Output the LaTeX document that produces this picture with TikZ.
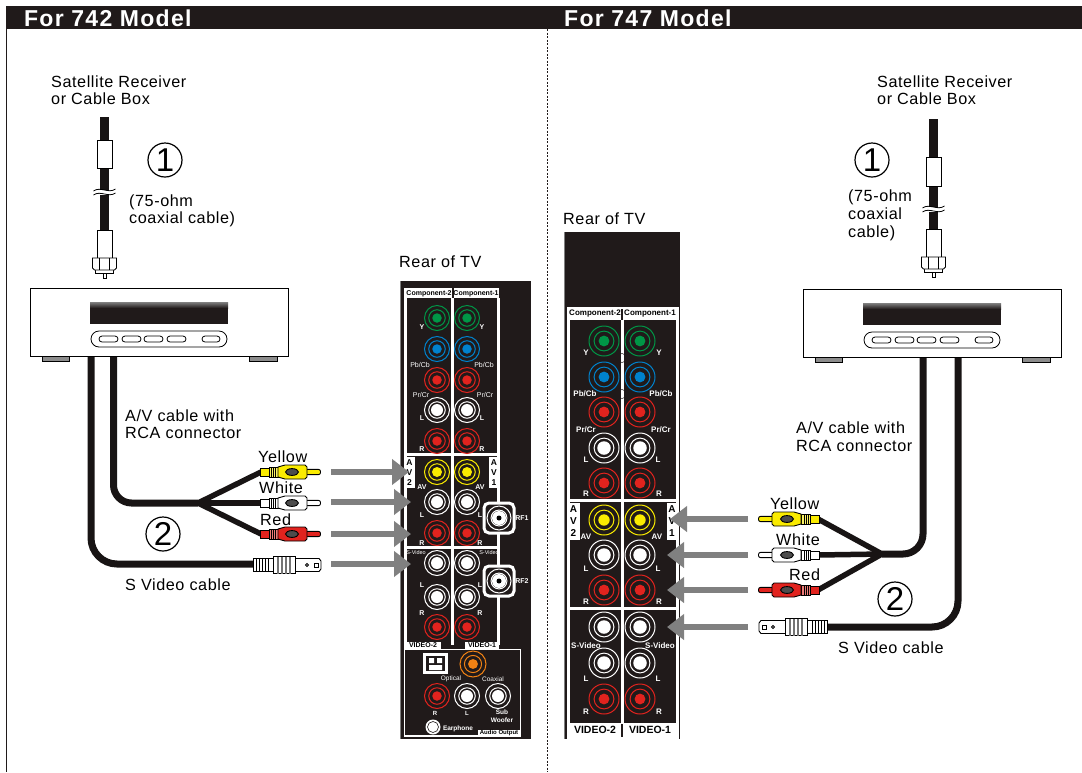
\documentclass[tikz,border=0pt]{standalone}
\usepackage{fontspec}
\usepackage{xcolor}
\usepackage{tikz}
\usetikzlibrary{arrows.meta}
\setmainfont{Liberation Sans}
\newfontfamily\capfont[LetterSpace=3.5]{Liberation Sans}
\newfontfamily\headfont[LetterSpace=5.5]{Liberation Sans Bold}
\definecolor{panelk}{RGB}{32, 26, 26}
\definecolor{cablek}{RGB}{24, 20, 20}
\definecolor{arrowg}{RGB}{128,128,128}
\definecolor{jackG}{RGB}{  0,150, 70}
\definecolor{jackB}{RGB}{  0,130,205}
\definecolor{jackR}{RGB}{225, 35, 30}
\definecolor{jackY}{RGB}{250,235,  0}
\definecolor{jackO}{RGB}{240,130, 20}
\definecolor{jackW}{RGB}{255,255,255}
\tikzset{
  cable/.style={cablek, line width=7pt},
  branch/.style={cablek, line width=5.5pt},
  tvarrow/.style={arrowg, line width=6pt, -{Triangle[length=17pt,width=25pt]}},
  caption/.style={inner sep=0pt, anchor=base west, font=\capfont\fontsize{16.2}{18}\selectfont},
  numcirc/.style={draw, circle, line width=1.2pt, minimum size=34pt, inner sep=0pt, font=\fontsize{33}{33}\selectfont},
  panelA/.style={inner sep=0pt, text=white, font=\bfseries\fontsize{7}{8}\selectfont},
  panelB/.style={inner sep=0pt, text=white, font=\bfseries\fontsize{8}{9}\selectfont},
}
% x, y, colour, outer radius; optional: part of the radius for the centre
\newcommand{\jack}[5][.38]{
  \draw[color=#4, line width=1pt] (#2,#3) circle (#5);
  \draw[color=#4, line width=1pt] (#2,#3) circle ({.66*#5});
  \fill[color=#4] (#2,#3) circle ({#1*#5});
}
% cable end x, centre y, direction, colour
\newcommand{\rcaplug}[4]{
  \begin{scope}[shift={(#1,#2)}, xscale=#3, line width=.9pt]
    \draw[fill=#4, rounded corners=2pt] (44,-2.6) rectangle (60.5,2.6);
    \draw[fill=#4] (0,-4) rectangle (9,4);
    \draw[fill=#4!60!white] (9,-5) rectangle (18,5);
    \foreach \xr in {11,13,15} {\draw[line width=1pt] (\xr,-5) -- (\xr,5);}
    \draw[fill=#4] (18,-5) -- (25,-7) -- (45,-7) -- (47,-5) -- (47,5) -- (45,7) -- (25,7) -- (18,5) -- cycle;
    \draw[fill=black!70] (32,0) ellipse (6.5 and 3.4);
  \end{scope}
}
\newcommand{\svplug}[3]{
  \begin{scope}[shift={(#1,#2)}, xscale=#3, line width=.9pt]
    \draw[fill=white] (41,-6.5) -- (66,-6.5) -- (68,-4) -- (68,4) -- (66,6.5) -- (41,6.5) -- cycle;
    \draw (54,0) circle (1.5);
    \draw (61,-2) rectangle (65,2);
    \draw[fill=white] (0,-6.5) rectangle (21,6.5);
    \draw[fill=white] (20,-8.5) rectangle (42,8.5);
    \foreach \xr in {3,6,9,12,15} {\draw[line width=1pt] (\xr,-6.5) -- (\xr,6.5);}
    \foreach \xr in {25,29,33,37} {\draw[black!55, line width=1.6pt] (\xr,-8.5) -- (\xr,8.5);}
  \end{scope}
}
% centre x, top, sleeve top, sleeve bottom, break, lower sleeve top
\newcommand{\coaxlead}[6]{
  \draw[cablek, line width=9pt] (#1,#2) -- (#1,#6);
  \draw[fill=white, line width=.8pt] ({#1-7.5},#3) rectangle ({#1+7.5},#4);
  \fill[white] ({#1-9},{#5-2.5}) rectangle ({#1+9},{#5+2.5});
  \draw[line width=.8pt] ({#1-11},{#5-1}) .. controls ({#1-4},{#5-6}) and ({#1+4},{#5+2}) .. ({#1+11},{#5-3});
  \draw[line width=.8pt] ({#1-11},{#5+3}) .. controls ({#1-4},{#5-2}) and ({#1+4},{#5+6}) .. ({#1+11},{#5+1});
  \draw[fill=white, line width=.8pt] ({#1-7.5},#6) rectangle ({#1+7.5},{#6+28});
  \draw[fill=white, line width=.8pt] ({#1-1.5},{#6+40}) rectangle ({#1+1.5},{#6+48});
  \draw[fill=white, line width=.8pt] ({#1-9},{#6+38}) rectangle ({#1+9},{#6+43});
  \draw[fill=white, line width=.8pt] ({#1-12},{#6+28}) -- ({#1+12},{#6+28}) -- ({#1+12},{#6+38}) -- ({#1+10},{#6+40}) -- ({#1-10},{#6+40}) -- ({#1-12},{#6+38}) -- cycle;
  \draw[line width=.8pt] ({#1-5},{#6+28}) -- ({#1-5},{#6+40}) ({#1+5},{#6+28}) -- ({#1+5},{#6+40});
}
\newcommand{\recvbox}[2]{
  \begin{scope}[shift={(#1,#2)}]
    \draw[fill=black!45, line width=.8pt] (12,68) rectangle (39,73);
    \draw[fill=black!45, line width=.8pt] (219,68) rectangle (247,73);
    \draw[fill=white, line width=1pt] (0,0) rectangle (258,68);
    \fill[panelk] (60,14) rectangle (198,36);
    \shade[top color=black!50, bottom color=panelk] (60,14) rectangle (198,20);
    \draw[line width=.8pt, rounded corners=8pt] (61,43) rectangle (197,59);
    \foreach \xa/\xb in {69/88, 92/111, 114/133, 137/156, 172/190} {
      \draw[line width=.8pt, rounded corners=3pt] (\xa,48) rectangle (\xb,54);
    }
  \end{scope}
}
\begin{document}
\begin{tikzpicture}[x=1pt, y=-1pt]
    \useasboundingbox (0,0) rectangle (1082,772);

    %% Frame and titles
    \fill[panelk] (6,6) rectangle (1082,29);
    \draw[panelk, line width=1.2pt] (6.5,29) -- (6.5,772);
    \draw[panelk, line width=1pt, dash pattern=on 2pt off 1.5pt] (547,29) -- (547,772);
    \node[inner sep=0pt, anchor=base west, text=white, font=\headfont\fontsize{23}{25}\selectfont] (titleA) at (24,26) {For 742 Model};
    \node[inner sep=0pt, anchor=base west, text=white, font=\headfont\fontsize{23}{25}\selectfont] (titleB) at (564,26) {For 747 Model};

    %% --- For 742: cables ---
    \coordinate (sLstart) at (91,356);
    \coordinate (sLbend) at (91,564);
    \coordinate (sLend) at (254,564);
    \draw[cable, rounded corners=26pt] (sLstart) -- (sLbend) -- (sLend);
    \coordinate (avLstart) at (113.5,356);
    \coordinate (avLbend) at (113.5,503);
    \coordinate (avLjoin) at (198,503);
    \coordinate (yLend) at (261,472);
    \coordinate (wLend) at (261,503);
    \coordinate (rLend) at (261,534);
    \draw[cable, rounded corners=18pt] (avLstart) -- (avLbend) -- (avLjoin);
    \draw[branch] (avLjoin) -- (yLend);
    \draw[branch] (avLjoin) -- (wLend);
    \draw[branch] (avLjoin) -- (rLend);
    \rcaplug{260}{472}{1}{jackY}
    \rcaplug{260}{503}{1}{white}
    \rcaplug{260}{534}{1}{jackR}
    \svplug{253}{565}{1}

    \coaxlead{104.5}{117}{140}{168}{192}{230}
    \recvbox{30}{288}

    %% --- For 742: rear panel ---
    \fill[arrowg] (400,281) rectangle (402,739);
    \fill[panelk] (401,281) rectangle (531,739);
    \draw[white, line width=3pt] (405.5,298) -- (405.5,645) (452.5,298) -- (452.5,645) (498,298) -- (498,645);
    \fill[white] (404,288) rectangle (499,298);
    \fill[panelk] (451.5,288) rectangle (453.5,298);
    \draw[white, line width=3pt] (404,454.5) -- (499,454.5) (404,547) -- (499,547);
    \fill[white] (404,457) rectangle (415,488);
    \fill[white] (489,457) rectangle (499,488);
    \fill[white] (404,642) rectangle (441,649);
    \fill[white] (465,642) rectangle (499,649);
    \foreach \jy/\jc/\jf in {318/jackG/.38, 349/jackB/.38, 380/jackR/.38, 410/jackW/.48, 441/jackR/.38, 472/jackY/.4, 502/jackW/.48, 533/jackR/.38, 563/jackW/.48, 597/jackW/.48, 627/jackR/.38} {
      \jack[\jf]{437}{\jy}{\jc}{12.5}
      \jack[\jf]{467}{\jy}{\jc}{12.5}
    }
    \node[panelA, text=black] (compL2) at (429,293.5) {Component-2};
    \node[panelA, text=black] (compL1) at (476,293.5) {Component-1};
    \node[panelA] (yL2) at (422,327) {Y};
    \node[panelA] (yL1) at (482,327) {Y};
    \node[panelA, font=\fontsize{7}{8}\selectfont] (pbL2) at (420,365) {Pb/Cb};
    \node[panelA, font=\fontsize{7}{8}\selectfont] (pbL1) at (484,365) {Pb/Cb};
    \node[panelA, font=\fontsize{7}{8}\selectfont] (prL2) at (421,395) {Pr/Cr};
    \node[panelA, font=\fontsize{7}{8}\selectfont] (prL1) at (485,395) {Pr/Cr};
    \node[panelA] (lL2a) at (422,418) {L};
    \node[panelA] (lL1a) at (482,418) {L};
    \node[panelA] (rL2a) at (422,449) {R};
    \node[panelA] (rL1a) at (482,449) {R};
    \node[panelA, text=black, font=\bfseries\fontsize{8.5}{10}\selectfont, align=center] (avLa) at (409.5,472.5) {A\\V\\2};
    \node[panelA, text=black, font=\bfseries\fontsize{8.5}{10}\selectfont, align=center] (avLb) at (494,472.5) {A\\V\\1};
    \node[panelA] (avL2) at (422,487) {AV};
    \node[panelA] (avL1) at (480,487) {AV};
    \node[panelA] (lL2b) at (422,515) {L};
    \node[panelA] (lL1b) at (480,515) {L};
    \node[panelA] (rL2b) at (422,543) {R};
    \node[panelA] (rL1b) at (480,543) {R};
    \node[panelA, font=\fontsize{5.5}{6}\selectfont] (svL2) at (416,552.5) {S-Video};
    \node[panelA, font=\fontsize{5.5}{6}\selectfont] (svL1) at (489,552.5) {S-Video};
    \node[panelA] (lL2c) at (422,585) {L};
    \node[panelA] (lL1c) at (480,585) {L};
    \node[panelA] (rL2c) at (422,613) {R};
    \node[panelA] (rL1c) at (480,613) {R};
    \node[panelA, text=black] (vidL2) at (423,645.5) {VIDEO-2};
    \node[panelA, text=black] (vidL1) at (482,645.5) {VIDEO-1};

    %% RF inputs
    \draw[white, line width=3pt, fill=panelk, rounded corners=5pt] (484,503) rectangle (514,533);
    \draw[white, line width=3pt, fill=panelk, rounded corners=5pt] (484,566) rectangle (514,596);
    \jack{499}{518}{white}{12}
    \jack{499}{581}{white}{12}
    \fill[white] (499,518) circle (7);
    \fill[white] (499,581) circle (7);
    \fill[black] (499,518) circle (2.5);
    \fill[black] (499,581) circle (2.5);
    \node[panelA] (rfA) at (522,518) {RF1};
    \node[panelA] (rfB) at (522,581) {RF2};

    %% Audio output
    \draw[white, line width=1.5pt] (404.5,649.5) rectangle (520.5,736);
    \fill[white] (423,653) rectangle (448,674);
    \fill[panelk] (426,656) rectangle (445,671);
    \fill[white] (429,658) rectangle (434,663) (437,658) rectangle (442,663) (429,665) rectangle (442,670);
    \jack{473}{664}{jackO}{13}
    \jack{437}{696}{jackR}{12.5}
    \jack[.48]{467}{696}{jackW}{12.5}
    \jack[.48]{498}{696}{jackW}{12.5}
    \fill[white] (433,727) circle (7.5);
    \draw[panelk, line width=.6pt] (433,727) circle (5.5);
    \node[panelA, font=\fontsize{6.5}{7}\selectfont] (optL) at (451,679) {Optical};
    \node[panelA, font=\fontsize{6.5}{7}\selectfont] (coaL) at (493,679) {Coaxial};
    \node[panelA, font=\bfseries\fontsize{6}{7}\selectfont] (arL) at (435,713) {R};
    \node[panelA, font=\bfseries\fontsize{6}{7}\selectfont] (alL) at (467,713) {L};
    \node[panelA, font=\bfseries\fontsize{6.5}{7.5}\selectfont, align=center] (subL) at (502,716) {Sub\\Woofer};
    \node[panelA, font=\bfseries\fontsize{6.5}{7}\selectfont] (earL) at (458,729) {Earphone};
    \fill[white] (478,730) rectangle (520,736);
    \node[panelA, text=black, font=\bfseries\fontsize{6}{7}\selectfont] (outL) at (499,733) {Audio Output};

    %% --- For 742: arrows ---
    \coordinate (aLas) at (331,472);
    \coordinate (aLae) at (409,472);
    \coordinate (aLbs) at (331,502);
    \coordinate (aLbe) at (411,502);
    \coordinate (aLcs) at (331,534);
    \coordinate (aLce) at (411,534);
    \coordinate (aLds) at (331,564);
    \coordinate (aLde) at (411,564);
    \draw[tvarrow] (aLas) -- (aLae);
    \draw[tvarrow] (aLbs) -- (aLbe);
    \draw[tvarrow] (aLcs) -- (aLce);
    \draw[tvarrow] (aLds) -- (aLde);

    %% --- For 742: labels ---
    \node[caption] (satL) at (51,87) {Satellite Receiver};
    \node[caption] (satLb) at (51,104) {or Cable Box};
    \node[numcirc] (oneL) at (165,160) {1};
    \node[caption] (ohmL) at (129,206) {(75-ohm};
    \node[caption] (ohmLb) at (129,223) {coaxial cable)};
    \node[caption] (rearL) at (399,267) {Rear of TV};
    \node[caption] (avcL) at (125,421) {A/V cable with};
    \node[caption] (avcLb) at (125,438) {RCA connector};
    \node[caption] (yelL) at (258,462) {Yellow};
    \node[caption] (whiL) at (259,493) {White};
    \node[caption] (redL) at (260,525) {Red};
    \node[numcirc] (twoL) at (163,534) {2};
    \node[caption] (svcL) at (125,590) {S Video cable};

    %% --- For 747: cables ---
    \coordinate (sRstart) at (958,357);
    \coordinate (sRbend) at (958,627);
    \coordinate (sRend) at (826,627);
    \draw[cable, rounded corners=26pt] (sRstart) -- (sRbend) -- (sRend);
    \coordinate (avRstart) at (923,357);
    \coordinate (avRbend) at (923,554);
    \coordinate (avRjoin) at (882,554);
    \coordinate (yRend) at (818,519);
    \coordinate (wRend) at (818,555);
    \coordinate (rRend) at (818,590);
    \draw[cable, rounded corners=20pt] (avRstart) -- (avRbend) -- (avRjoin);
    \draw[branch] (avRjoin) -- (yRend);
    \draw[branch] (avRjoin) -- (wRend);
    \draw[branch] (avRjoin) -- (rRend);
    \rcaplug{819}{519}{-1}{jackY}
    \rcaplug{819}{555}{-1}{white}
    \rcaplug{819}{590}{-1}{jackR}
    \svplug{827}{627}{-1}

    \coaxlead{933.5}{119}{157}{186}{209}{229}
    \recvbox{803}{289}

    %% --- For 747: rear panel ---
    \fill[arrowg] (564,232) rectangle (566,739);
    \fill[panelk] (565,232) rectangle (680,739);
    \draw[white, line width=3pt] (568.5,308) rectangle (677,737);
    \draw[white, line width=3pt] (622.5,320) -- (622.5,723);
    \fill[white] (568,308) rectangle (677,320);
    \fill[panelk] (621,309) rectangle (623,320);
    \draw[white, line width=3pt] (568,500.5) -- (677,500.5) (568,608) -- (677,608);
    \fill[white] (568,503) rectangle (580,540);
    \fill[white] (667,503) rectangle (677,540);
    \fill[white] (568,723) rectangle (677,737);
    \fill[panelk] (621,724) rectangle (623,737);
    \draw[panelk, line width=.5pt] (622,358) circle (4.5) (622,394) circle (4.5);
    \foreach \jy/\jc/\jf in {341/jackG/.36, 377/jackB/.36, 412/jackR/.36, 448/jackW/.45, 483/jackR/.36, 520/jackY/.38, 555/jackW/.45, 590/jackR/.36, 627/jackW/.45, 663/jackW/.45, 699/jackR/.36} {
      \jack[\jf]{604}{\jy}{\jc}{15}
      \jack[\jf]{640}{\jy}{\jc}{15}
    }
    \node[panelB, text=black] (compR2) at (595,314) {Component-2};
    \node[panelB, text=black] (compR1) at (650,314) {Component-1};
    \node[panelB] (yR2) at (586,353) {Y};
    \node[panelB] (yR1) at (659,353) {Y};
    \node[panelB] (pbR2) at (585,394) {Pb/Cb};
    \node[panelB] (pbR1) at (661,394) {Pb/Cb};
    \node[panelB] (prR2) at (586,430) {Pr/Cr};
    \node[panelB] (prR1) at (661,430) {Pr/Cr};
    \node[panelB] (lR2a) at (586,460) {L};
    \node[panelB] (lR1a) at (658,460) {L};
    \node[panelB] (rR2a) at (586,494) {R};
    \node[panelB] (rR1a) at (659,494) {R};
    \node[panelB, text=black, font=\bfseries\fontsize{10}{12}\selectfont, align=center] (avRa) at (573.5,521) {A\\V\\2};
    \node[panelB, text=black, font=\bfseries\fontsize{10}{12}\selectfont, align=center] (avRb) at (672,521) {A\\V\\1};
    \node[panelB] (avR2) at (586,537) {AV};
    \node[panelB] (avR1) at (657,537) {AV};
    \node[panelB] (lR2b) at (586,569) {L};
    \node[panelB] (lR1b) at (658,569) {L};
    \node[panelB] (rR2b) at (586,602) {R};
    \node[panelB] (rR1b) at (659,602) {R};
    \node[panelB] (svR2) at (586,646) {S-Video};
    \node[panelB] (svR1) at (660,646) {S-Video};
    \node[panelB] (lR2c) at (586,679) {L};
    \node[panelB] (lR1c) at (658,679) {L};
    \node[panelB] (rR2c) at (586,712) {R};
    \node[panelB] (rR1c) at (659,712) {R};
    \node[panelB, text=black, font=\bfseries\fontsize{10.5}{12}\selectfont] (vidR2) at (595,730) {VIDEO-2};
    \node[panelB, text=black, font=\bfseries\fontsize{10.5}{12}\selectfont] (vidR1) at (650,730) {VIDEO-1};

    %% --- For 747: arrows ---
    \coordinate (aRas) at (748,519);
    \coordinate (aRae) at (670,519);
    \coordinate (aRbs) at (748,555);
    \coordinate (aRbe) at (667,555);
    \coordinate (aRcs) at (748,590);
    \coordinate (aRce) at (667,590);
    \coordinate (aRds) at (748,627);
    \coordinate (aRde) at (667,627);
    \draw[tvarrow] (aRas) -- (aRae);
    \draw[tvarrow] (aRbs) -- (aRbe);
    \draw[tvarrow] (aRcs) -- (aRce);
    \draw[tvarrow] (aRds) -- (aRde);

    %% --- For 747: labels ---
    \node[caption] (satR) at (877,87) {Satellite Receiver};
    \node[caption] (satRb) at (877,104) {or Cable Box};
    \node[numcirc] (oneR) at (872,160) {1};
    \node[caption] (ohmR) at (848,201) {(75-ohm};
    \node[caption] (ohmRb) at (848,219) {coaxial};
    \node[caption] (ohmRc) at (848,237) {cable)};
    \node[caption] (rearR) at (563,224) {Rear of TV};
    \node[caption] (avcR) at (796,433) {A/V cable with};
    \node[caption] (avcRb) at (796,451) {RCA connector};
    \node[caption] (yelR) at (770,509) {Yellow};
    \node[caption] (whiR) at (776,545) {White};
    \node[caption] (redR) at (789,580) {Red};
    \node[numcirc] (twoR) at (895,599) {2};
    \node[caption] (svcR) at (838,653) {S Video cable};

\end{tikzpicture}
\end{document}
